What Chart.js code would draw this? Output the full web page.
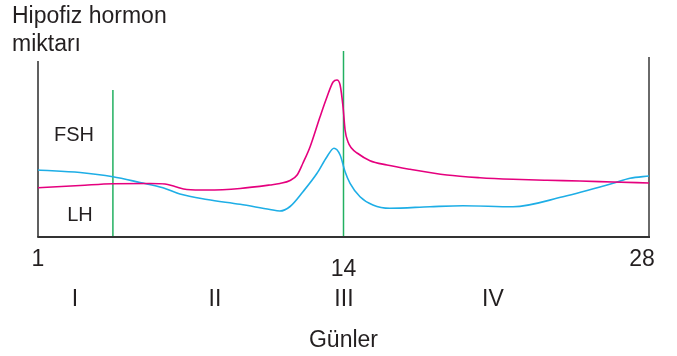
<!DOCTYPE html>
<html>
<head>
<meta charset="utf-8">
<script src="https://cdn.jsdelivr.net/npm/chart.js@4"></script>
<style>
  html, body { margin: 0; padding: 0; background: #fff; }
  #wrap { width: 677px; height: 356px; position: relative; }
</style>
</head>
<body>
<div id="wrap"><canvas id="c"></canvas></div>
<script>
// x = position along the cycle axis (1 .. 28, day 14 sits in the middle), y = hormone level (arbitrary)
const fshX = [1.00, 2.86, 4.31, 5.95, 6.61, 7.05, 7.58, 8.47, 9.93, 11.25, 11.69, 12.14, 12.45, 12.71, 13.02, 13.46, 13.77, 14.04, 14.21, 14.35, 14.48, 14.57, 14.70, 14.85, 15.10, 15.67, 16.42, 17.44, 19.07, 20.53, 21.99, 23.49, 24.95, 26.41, 28.00];
const fshY = [49.3, 51.5, 53.3, 53.5, 53.0, 50.5, 47.5, 47.0, 48.5, 52.0, 53.5, 56.5, 62.0, 74.0, 90.0, 120.0, 140.0, 155.0, 157.0, 152.0, 130.0, 107.0, 95.0, 89.0, 84.0, 76.3, 72.0, 67.7, 62.0, 59.3, 57.7, 56.7, 56.0, 55.0, 54.0];

const lhX = [1.00, 2.86, 4.31, 5.51, 6.52, 7.27, 8.47, 9.93, 11.25, 11.69, 12.14, 12.71, 13.33, 13.77, 14.08, 14.35, 14.57, 14.79, 15.23, 15.80, 16.55, 18.32, 19.78, 21.99, 24.20, 26.41, 27.16, 28.00];
const lhY = [67.0, 64.5, 60.3, 54.5, 49.3, 43.0, 37.5, 32.7, 27.5, 26.0, 30.5, 45.3, 63.7, 80.3, 88.7, 82.0, 65.3, 53.7, 40.3, 32.0, 28.7, 30.3, 31.3, 30.3, 40.3, 53.7, 58.7, 61.0];

// phase boundaries (green markers): position and height
const markerX = [4.31, 14.5];
const markerTop = [147, 186];

const tickPos = [1, 14.5, 28];
const tickLabels = ['1', '14', '28'];
const phasePos = [2.63, 8.82, 14.52, 21.1];
const phaseLabels = ['I', 'II', 'III', 'IV'];

const FONT = '"Liberation Sans", Arial, sans-serif';

const toPts = (xs, ys) => xs.map((x, i) => ({ x: x, y: ys[i] }));

const markerSets = markerX.map((x, i) => ({
  data: [{ x: x, y: 0 }, { x: x, y: markerTop[i] }],
  borderColor: '#22b060', borderWidth: 1.5, pointRadius: 0, fill: false, order: 3
}));

// frame + texts
const decor = {
  id: 'decor',
  beforeDatasetsDraw(chart) {
    const { ctx, scales: { x, y } } = chart;
    ctx.save();
    ctx.lineCap = 'butt';
    // left axis
    ctx.strokeStyle = '#2b2b2b'; ctx.lineWidth = 1.5;
    ctx.beginPath(); ctx.moveTo(x.getPixelForValue(1), y.getPixelForValue(176)); ctx.lineTo(x.getPixelForValue(1), y.getPixelForValue(0)); ctx.stroke();
    // right axis
    ctx.strokeStyle = '#6a6a6a'; ctx.lineWidth = 2;
    ctx.beginPath(); ctx.moveTo(x.getPixelForValue(28), y.getPixelForValue(180)); ctx.lineTo(x.getPixelForValue(28), y.getPixelForValue(0) + 1); ctx.stroke();
    ctx.restore();
  },
  afterDatasetsDraw(chart) {
    const { ctx, scales: { x, y } } = chart;
    const base = y.getPixelForValue(0);
    ctx.save();
    // bottom axis
    ctx.strokeStyle = '#333'; ctx.lineWidth = 2;
    ctx.beginPath(); ctx.moveTo(x.getPixelForValue(1) - 0.75, base); ctx.lineTo(x.getPixelForValue(28) + 1, base); ctx.stroke();

    ctx.fillStyle = '#231f20';
    ctx.textAlign = 'left'; ctx.textBaseline = 'alphabetic';
    ctx.font = '23px ' + FONT;
    ctx.fillText('Hipofiz hormon', 12, 23);
    ctx.fillText('miktarı', 12, 51);

    ctx.textAlign = 'center';
    ctx.font = '20px ' + FONT;
    ctx.fillText('FSH', 74, 141);
    ctx.fillText('LH', 80, 221);

    ctx.font = '23px ' + FONT;
    tickLabels.forEach((t, i) => {
      const dy = t === '14' ? 39 : 29;
      ctx.fillText(t, x.getPixelForValue(tickPos[i]) + (i === 2 ? -7 : 0), base + dy);
    });
    phaseLabels.forEach((t, i) => ctx.fillText(t, x.getPixelForValue(phasePos[i]), base + 69));
    ctx.fillText('Günler', x.getPixelForValue(14.5), base + 110);
    ctx.restore();
  }
};

new Chart(document.getElementById('c'), {
  type: 'line',
  data: {
    datasets: [
      { label: 'FSH', data: toPts(fshX, fshY), borderColor: '#e5007e', borderWidth: 1.6, pointRadius: 0, cubicInterpolationMode: 'monotone', fill: false, order: 1 },
      { label: 'LH', data: toPts(lhX, lhY), borderColor: '#1eaee6', borderWidth: 1.6, pointRadius: 0, cubicInterpolationMode: 'monotone', fill: false, order: 2 },
      ...markerSets
    ]
  },
  options: {
    responsive: true, maintainAspectRatio: false, animation: false,
    layout: { padding: { left: 38, right: 28, top: 51, bottom: 119 } },
    plugins: { legend: { display: false }, tooltip: { enabled: false } },
    scales: {
      x: { type: 'linear', min: 1, max: 28, display: false },
      y: { min: 0, max: 186, display: false }
    }
  },
  plugins: [decor]
});
</script>
</body>
</html>
